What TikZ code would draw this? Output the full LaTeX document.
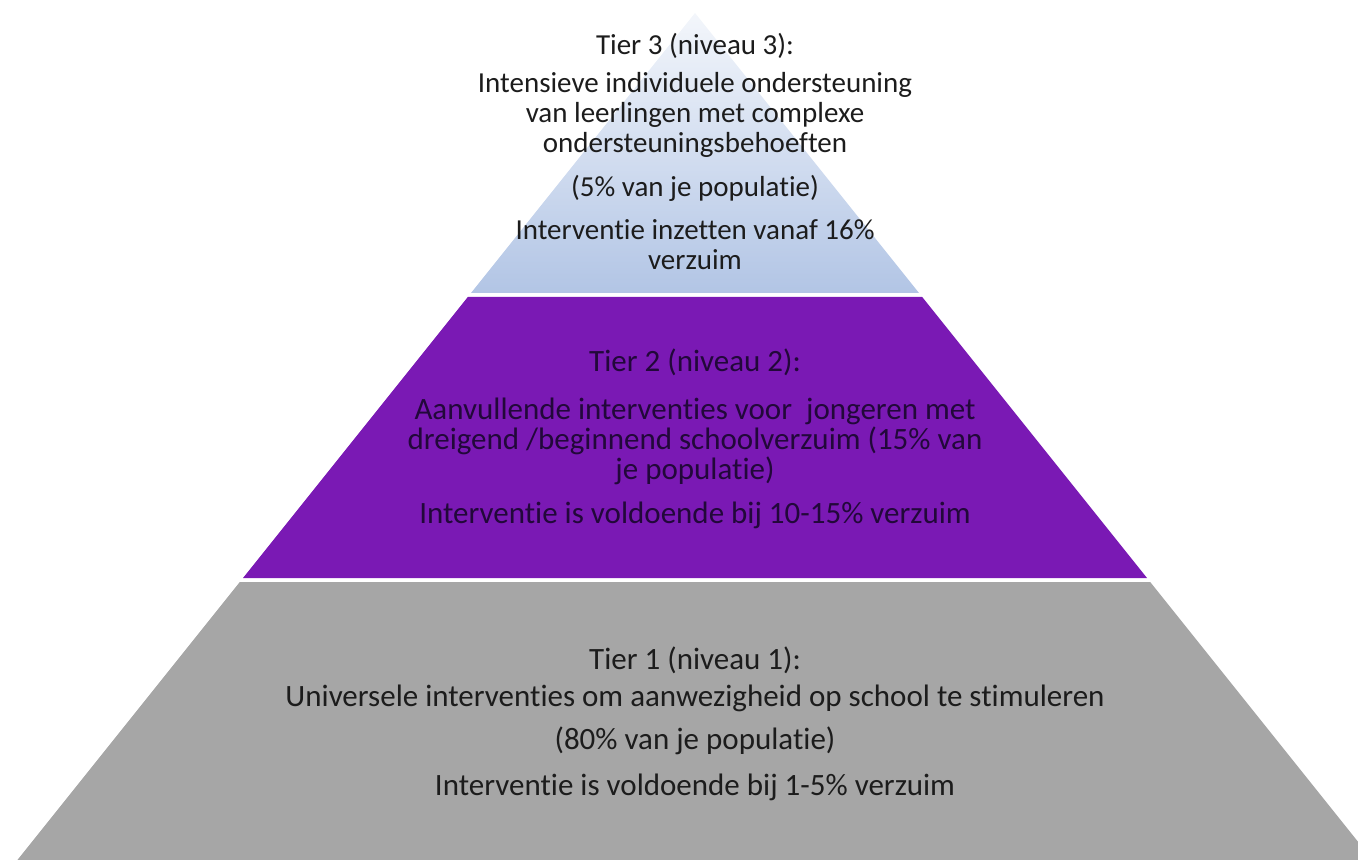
\documentclass[tikz,border=0pt]{standalone}
\usepackage{fontspec}
\setmainfont{Carlito}[Ligatures={NoCommon}]
\definecolor{tiertopA}{HTML}{F3F6FB}
\definecolor{tiertopB}{HTML}{B2C5E5}
\definecolor{tiermid}{HTML}{7A19B4}
\definecolor{tierbot}{HTML}{A6A6A6}
\definecolor{txtdark}{HTML}{1C1C1C}
\definecolor{txtpurple}{HTML}{22083A}
\tikzset{
  tiertext/.style={align=center, inner sep=0pt, text=txtdark,
    font=\fontsize{14.5}{15}\selectfont},
  tiertextbig/.style={tiertext, font=\fontsize{15.5}{15}\selectfont},
  tiertextp/.style={tiertextbig, text=txtpurple},
}
\begin{document}
\begin{tikzpicture}[x=0.5pt,y=-0.5pt]
\useasboundingbox (0,0) rectangle (1358,860);
\clip (0,0) rectangle (1358,860);
% tiers
\shade[top color=tiertopA, bottom color=tiertopB]
  (695,13) -- (919,293) -- (471,293) -- cycle;
\fill[tiermid] (467.8,297) -- (922.2,297) -- (1147,578) -- (243,578) -- cycle;
\fill[tierbot] (239.8,582) -- (1150.2,582) -- (1372.6,860) -- (17.4,860) -- cycle;
% tier 3 text
\node[tiertext] (t3a) at (695,46) {Tier 3 (niveau 3):};
\node[tiertext] (t3b) at (695,115) {Intensieve individuele ondersteuning\\van leerlingen met complexe\\ondersteuningsbehoeften};
\node[tiertext] (t3c) at (695,188) {(5\% van je populatie)};
\node[tiertext] (t3d) at (695,245) {Interventie inzetten vanaf 16\%\\verzuim};
% tier 2 text
\node[tiertextp] (t2a) at (695,362) {Tier 2 (niveau 2):};
\node[tiertextp] (t2b) at (695,441) {Aanvullende interventies voor\ \ jongeren met\\dreigend /beginnend schoolverzuim (15\% van\\je populatie)};
\node[tiertextp] (t2c) at (695,515) {Interventie is voldoende bij 10-15\% verzuim};
% tier 1 text
\node[tiertextbig] (t1a) at (695,660) {Tier 1 (niveau 1):};
\node[tiertextbig] (t1b) at (695,698) {Universele interventies om aanwezigheid op school te stimuleren};
\node[tiertextbig] (t1c) at (695,741) {(80\% van je populatie)};
\node[tiertextbig] (t1d) at (695,787) {Interventie is voldoende bij 1-5\% verzuim};
\end{tikzpicture}
\end{document}
